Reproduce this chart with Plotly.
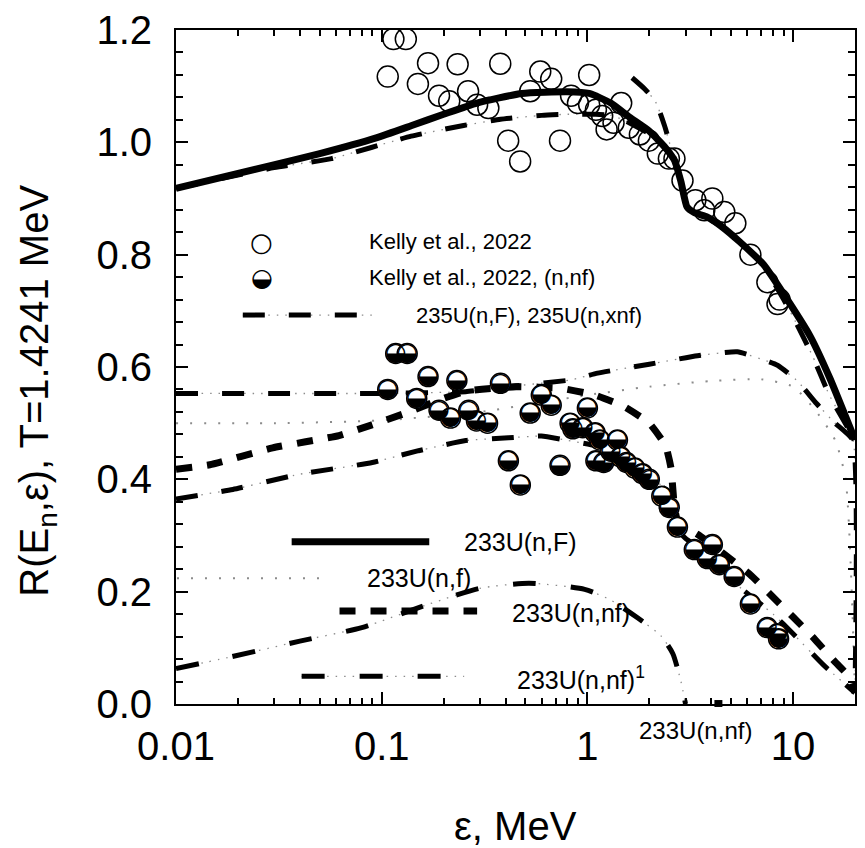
import plotly.graph_objects as go

# ---------------- data ----------------
# 233U(n,F) thick solid
nF_x = [0.01, 0.0285, 0.05, 0.094, 0.14, 0.2, 0.29, 0.48, 0.8, 1.02, 1.3, 1.6, 2.0, 2.4, 2.65, 2.85, 3.05, 3.3, 3.83, 4.5, 5.5, 7.2, 9.0, 12.1, 15.1, 20.0]
nF_y = [0.918, 0.958, 0.98, 1.008, 1.03, 1.05, 1.07, 1.087, 1.09, 1.087, 1.07, 1.045, 1.02, 0.99, 0.968, 0.93, 0.885, 0.875, 0.867, 0.85, 0.823, 0.782, 0.73, 0.655, 0.58, 0.47]

# 235U(n,F) dash-dot (upper)
u5F_x = [0.01, 0.03, 0.057, 0.139, 0.25, 0.378, 0.6, 0.8, 1.1, 1.3, 1.5, 2.0, 2.4, 2.7, 3.05, 3.5, 4.5, 5.5, 7.2, 9.0, 10.4, 12.5, 15.0, 20.0]
u5F_y = [0.918, 0.955, 0.971, 1.011, 1.03, 1.041, 1.048, 1.05, 1.05, 1.048, 1.04, 1.015, 0.99, 0.962, 0.885, 0.873, 0.85, 0.823, 0.78, 0.72, 0.677, 0.618, 0.55, 0.47]

# 235U(n,xnf) dash-dot (upper short branch)
u5x_x = [1.65, 1.9, 2.14, 2.37, 2.55, 2.7]
u5x_y = [1.115, 1.095, 1.073, 1.03, 0.99, 0.96]

# lower dash-dot (a)
a_x = [0.01, 0.1, 0.256, 0.41, 0.83, 1.12, 2.0, 3.43, 5.36, 8.4, 10.5, 13.0, 16.0, 19.5, 19.99]
a_y = [0.553, 0.553, 0.556, 0.565, 0.577, 0.589, 0.605, 0.62, 0.627, 0.603, 0.575, 0.535, 0.5, 0.47, 0.02]

# 233U(n,f) dotted (b)
b_x = [0.01, 0.03, 0.1, 0.3, 1.0, 2.0, 4.0, 7.0, 10.0, 13.0, 16.0, 18.0, 19.99]
b_y = [0.50, 0.50, 0.505, 0.52, 0.55, 0.565, 0.575, 0.578, 0.565, 0.52, 0.47, 0.40, 0.02]

# 233U(n,nf) short dash (c)
c_x = [0.01, 0.0146, 0.0295, 0.062, 0.0897, 0.131, 0.183, 0.256, 0.45, 0.745, 1.09, 1.5, 2.0, 2.4, 2.55, 2.65, 2.75, 3.0, 3.5, 4.5, 6.2, 8.0, 10.0, 12.4, 16.0, 18.8, 20.0]
c_y = [0.418, 0.426, 0.456, 0.478, 0.497, 0.518, 0.539, 0.557, 0.565, 0.562, 0.55, 0.53, 0.50, 0.46, 0.42, 0.35, 0.325, 0.315, 0.30, 0.27, 0.23, 0.19, 0.155, 0.12, 0.075, 0.048, 0.02]

# 235U(n,xnf) lower dash-dot (d)
d_x = [0.01, 0.0189, 0.0398, 0.09, 0.151, 0.256, 0.413, 0.597, 0.78, 1.09, 1.5, 2.0, 2.4, 2.6, 2.75, 3.0, 4.0, 5.3, 8.0, 10.0, 14.0, 20.0]
d_y = [0.365, 0.382, 0.409, 0.43, 0.451, 0.469, 0.474, 0.477, 0.47, 0.46, 0.44, 0.41, 0.38, 0.35, 0.31, 0.295, 0.262, 0.213, 0.16, 0.125, 0.07, 0.02]

# 233U(n,nf)^1 dash-dot-dot (e)
e_x = [0.01, 0.018, 0.04, 0.08, 0.17, 0.3, 0.52, 0.97, 1.3, 1.76, 2.27, 2.6, 2.85, 3.0]
e_y = [0.063, 0.083, 0.112, 0.136, 0.178, 0.206, 0.215, 0.204, 0.185, 0.153, 0.122, 0.09, 0.04, 0.0]

# Kelly et al., 2022 (open circles)
k_x = [0.107, 0.114, 0.131, 0.15, 0.168, 0.19, 0.213, 0.234, 0.263, 0.291, 0.33, 0.377, 0.412, 0.471, 0.527, 0.59, 0.667, 0.736, 0.833, 0.90, 1.02, 1.02, 1.1, 1.18, 1.24, 1.34, 1.46, 1.59, 1.80, 1.99, 2.2, 2.49, 2.65, 2.9, 3.35, 3.7, 4.05, 4.63, 5.24, 6.2, 7.5, 8.4, 8.6]
k_y = [1.117, 1.184, 1.184, 1.104, 1.141, 1.083, 1.073, 1.139, 1.091, 1.067, 1.061, 1.14, 1.003, 0.966, 1.091, 1.126, 1.113, 1.003, 1.083, 1.07, 1.12, 1.067, 1.058, 1.047, 1.023, 1.035, 1.07, 1.026, 1.014, 1.003, 0.98, 0.971, 0.971, 0.932, 0.897, 0.879, 0.9, 0.876, 0.856, 0.8, 0.751, 0.712, 0.72]

# Kelly et al., 2022, (n,nf) (half-filled circles)
h_x = [0.107, 0.117, 0.133, 0.148, 0.168, 0.19, 0.216, 0.232, 0.265, 0.289, 0.327, 0.378, 0.413, 0.472, 0.527, 0.597, 0.667, 0.736, 0.824, 0.85, 0.95, 1.0, 1.09, 1.1, 1.15, 1.2, 1.3, 1.4, 1.45, 1.55, 1.7, 1.85, 2.0, 2.3, 2.5, 2.74, 3.31, 3.83, 4.05, 4.38, 5.17, 6.2, 7.49, 8.4, 8.5]
h_y = [0.56, 0.624, 0.624, 0.544, 0.583, 0.523, 0.509, 0.576, 0.523, 0.504, 0.50, 0.571, 0.433, 0.39, 0.518, 0.55, 0.532, 0.425, 0.50, 0.49, 0.492, 0.527, 0.483, 0.433, 0.47, 0.43, 0.45, 0.47, 0.44, 0.43, 0.42, 0.41, 0.40, 0.37, 0.35, 0.315, 0.275, 0.259, 0.284, 0.248, 0.227, 0.178, 0.136, 0.125, 0.116]

x_tickvals = [0.01, 0.1, 1, 10]
x_ticktext = ["0.01", "0.1", "1", "10"]
y_tickvals = [0.0, 0.2, 0.4, 0.6, 0.8, 1.0, 1.2]
y_ticktext = ["0.0", "0.2", "0.4", "0.6", "0.8", "1.0", "1.2"]

# ---------------- figure ----------------
FONT = "Arial, Liberation Sans, sans-serif"
W, H = 865, 848
L, R, T, B = 176, 8, 23, 144
PW, PH = W - L - R, H - T - B
GRAY = "#8c8c8c"

fig = go.Figure()

def line_trace(x, y, color, width, dash, smooth=0.6):
    fig.add_trace(go.Scatter(x=x, y=y, mode="lines",
                             line=dict(color=color, width=width, dash=dash, shape="spline", smoothing=smooth),
                             hoverinfo="skip", showlegend=False))

def dashdot(x, y, dash="22px,24px", width=5, gdash="1.5px,7px", smooth=0.6):
    line_trace(x, y, GRAY, 1.3, gdash, smooth)
    line_trace(x, y, "black", width, dash, smooth)

# dotted 233U(n,f)
line_trace(b_x, b_y, GRAY, 2, "2px,12px")
dashdot(a_x, a_y, smooth=0.4)
dashdot(d_x, d_y, smooth=0.4)
dashdot(e_x, e_y, dash="23px,35px")
line_trace(c_x, c_y, "black", 7, "16px,15px", smooth=0.4)
dashdot(u5F_x, u5F_y, smooth=0.4)
dashdot(u5x_x, u5x_y)
line_trace(nF_x, nF_y, "black", 7, "solid", smooth=0.5)

# open circles
fig.add_trace(go.Scatter(x=k_x, y=k_y, mode="markers",
                         marker=dict(symbol="circle", size=21, color="rgba(0,0,0,0)", line=dict(color="black", width=1.5)),
                         showlegend=False))
# half filled circles
fig.add_trace(go.Scatter(x=h_x, y=h_y, mode="markers",
                         marker=dict(symbol="circle", size=20, color="white", line=dict(color="black", width=1.5)),
                         showlegend=False))
fig.add_trace(go.Scatter(x=h_x, y=h_y, mode="text", text=["\u25D2"] * len(h_x), textposition="middle center",
                         textfont=dict(family="DejaVu Sans", size=25, color="black"), showlegend=False))

# ---------------- legend (manual) ----------------
def px2paper(xp, yp):
    return (xp - L) / PW, 1 - (yp - T) / PH

def leg_line(x0, x1, yp, color="black", width=5, dash="solid"):
    a0, b0 = px2paper(x0, yp)
    a1, _ = px2paper(x1, yp)
    fig.add_shape(type="line", xref="paper", yref="paper", x0=a0, x1=a1, y0=b0, y1=b0,
                  line=dict(color=color, width=width, dash=dash))

def text_at(xp, yp, txt, size=24, xanchor="left", family=FONT, angle=0):
    a, b = px2paper(xp, yp)
    fig.add_annotation(xref="paper", yref="paper", x=a, y=b, text=txt, showarrow=False,
                       xanchor=xanchor, yanchor="middle", textangle=angle,
                       font=dict(family=family, size=size, color="black"))

def leg_dashdot(x0, x1, yp, dash="22px,24px", width=5):
    leg_line(x0, x1, yp, color=GRAY, width=1.3, dash="1.5px,7px")
    leg_line(x0, x1, yp, color="black", width=width, dash=dash)

# upper legend
text_at(262, 237, "\u25CB", size=26, xanchor="center", family="DejaVu Sans")
text_at(262, 273, "\u25D2", size=25, xanchor="center", family="DejaVu Sans")
text_at(368, 237, "Kelly et al., 2022", size=22)
text_at(368, 273, "Kelly et al., 2022, (n,nf)", size=22)
leg_dashdot(243, 373, 311)
text_at(415, 311, "235U(n,F), 235U(n,xnf)", size=22)

# lower legend
leg_line(292, 430, 540, width=7)
text_at(463, 540, "233U(n,F)", size=25)
leg_line(177, 330, 577, color=GRAY, width=2, dash="2px,12px")
text_at(366, 577, "233U(n,f)", size=25)
leg_line(340, 478, 610, width=7, dash="16px,15px")
text_at(511, 612, "233U(n,nf)", size=25)
leg_dashdot(302, 465, 676, dash="23px,35px")
text_at(516, 678, "233U(n,nf)<sup>1</sup>", size=25)

# stray label below the axis
text_at(697, 731, "233U(n,nf)", size=24, xanchor="center")
a0, b0 = px2paper(716, 700)
a1, b1 = px2paper(724, 707)
fig.add_shape(type="rect", xref="paper", yref="paper", x0=a0, x1=a1, y0=b1, y1=b0,
              fillcolor="black", line=dict(width=0))

# axis titles
text_at(516, 827, "\u03B5, MeV", size=40, xanchor="center")
text_at(37, 387, "R(E<sub>n</sub>,\u03B5), T=1.4241 MeV", size=40, xanchor="center", angle=-90)

minor_x = [m * 10 ** e for e in (-2, -1, 0, 1) for m in range(2, 10) if m * 10 ** e < 20]

fig.update_xaxes(type="log", range=[-2, 1.30103], tickmode="array", tickvals=x_tickvals, ticktext=x_ticktext,
                 ticks="inside", ticklen=12, tickwidth=2, tickcolor="black",
                 minor=dict(tickmode="array", tickvals=minor_x, ticks="inside", ticklen=6, tickwidth=2, tickcolor="black"),
                 showline=True, linecolor="black", linewidth=2, mirror="ticks", showgrid=False, zeroline=False,
                 tickfont=dict(family=FONT, size=40, color="black"), ticklabelstandoff=6)
fig.update_yaxes(range=[0, 1.2], tickmode="array", tickvals=y_tickvals, ticktext=y_ticktext,
                 ticks="inside", ticklen=12, tickwidth=2, tickcolor="black",
                 minor=dict(dtick=0.04, ticks="inside", ticklen=7, tickwidth=2, tickcolor="black"),
                 showline=True, linecolor="black", linewidth=2, mirror="ticks", showgrid=False, zeroline=False,
                 tickfont=dict(family=FONT, size=40, color="black"), ticklabelstandoff=14)

fig.update_layout(width=W, height=H, margin=dict(l=L, r=R, t=T, b=B), plot_bgcolor="white", paper_bgcolor="white",
                  showlegend=False)

fig.write_html("out.html")
